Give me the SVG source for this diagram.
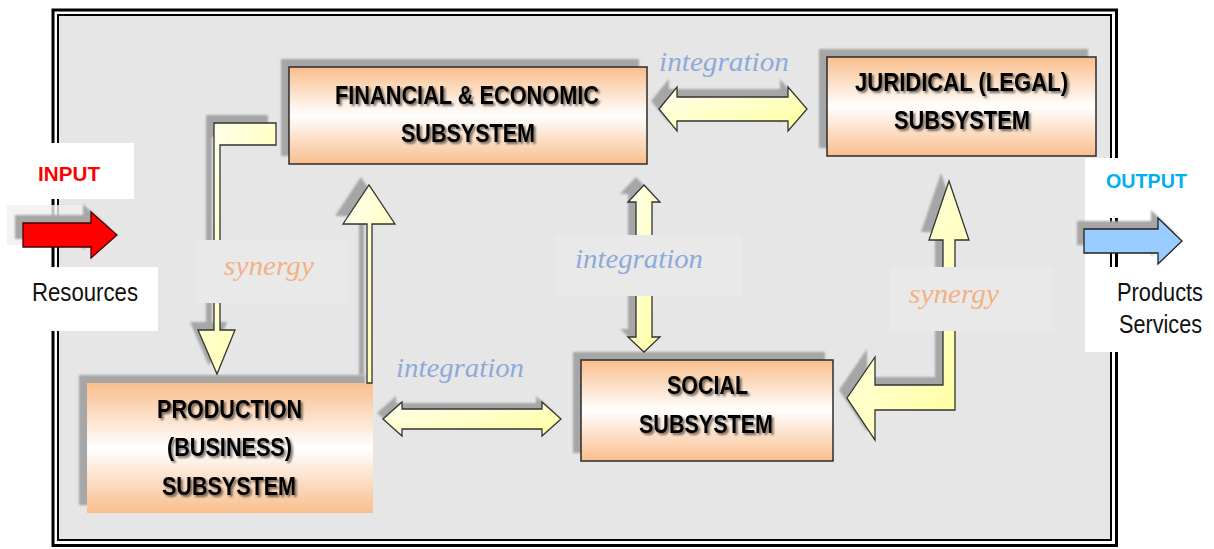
<svg xmlns="http://www.w3.org/2000/svg" width="1214" height="549" viewBox="0 0 1214 549">
<defs>
<linearGradient id="boxg" x1="0" y1="0" x2="0" y2="1">
<stop offset="0" stop-color="#f9be8c"/>
<stop offset="0.5" stop-color="#ffffff"/>
<stop offset="1" stop-color="#f9be8c"/>
</linearGradient>
<linearGradient id="yg" x1="0" y1="0" x2="1" y2="1">
<stop offset="0" stop-color="#fffff2"/>
<stop offset="0.5" stop-color="#ffffc8"/>
<stop offset="1" stop-color="#ffff99"/>
</linearGradient>
<filter id="blur" x="-20%" y="-20%" width="140%" height="140%">
<feGaussianBlur stdDeviation="1"/>
</filter>
<filter id="tsh" x="-10%" y="-30%" width="120%" height="160%">
<feDropShadow dx="2" dy="2" stdDeviation="1.3" flood-color="#000" flood-opacity="0.55"/>
</filter>
</defs>
<style>
.shadow{fill:#a6a6a6;filter:url(#blur)}
.box{fill:url(#boxg);stroke:#2b2b2b;stroke-width:1.5}
.nostroke{stroke:none}
.nt{font-family:"Liberation Sans",Arial,sans-serif;font-weight:bold;font-size:25px;fill:#000;filter:url(#tsh)}
.plain{font-family:"Liberation Sans",Arial,sans-serif;font-size:25px;fill:#111}
.io{font-family:"Liberation Sans",Arial,sans-serif;font-weight:bold;font-size:20px}
.yarrow{fill:url(#yg);stroke:#333;stroke-width:1.3;stroke-linejoin:miter}
.lbl{font-family:"Liberation Serif","Times New Roman",serif;font-style:italic;font-size:27px}
.integ{fill:#8eaadb}
.syn{fill:#f4b183}
.lblbg{fill:#e9e9e9}
</style>

<!-- frame -->
<g id="frame">
<rect x="53" y="10" width="1063.5" height="535.5" fill="#ffffff" stroke="#000" stroke-width="3"/>
<rect x="58" y="15" width="1053" height="525" fill="#e6e6e6" stroke="#000" stroke-width="2"/>
</g>

<!-- white label panels -->
<g id="panels">
<rect x="0" y="143" width="134" height="56" fill="#ffffff"/>
<rect x="0" y="267" width="158" height="64" fill="#ffffff"/>
<rect x="1085" y="158" width="129" height="194" fill="#ffffff"/>
<line x1="1111" y1="218" x2="1111" y2="267" stroke="#000" stroke-width="2"/>
<line x1="1116.5" y1="218" x2="1116.5" y2="267" stroke="#000" stroke-width="3"/>
</g>

<!-- nodes -->
<g id="node-financial">
<rect class="shadow" x="281" y="59" width="358" height="97"/>
<rect class="box" x="289" y="67" width="358" height="97"/>
<text class="nt" x="335" y="104" textLength="264" lengthAdjust="spacingAndGlyphs">FINANCIAL &amp; ECONOMIC</text>
<text class="nt" x="401" y="142" textLength="134" lengthAdjust="spacingAndGlyphs">SUBSYSTEM</text>
</g>
<g id="node-juridical">
<rect class="shadow" x="819" y="49" width="269" height="99"/>
<rect class="box" x="827" y="57" width="269" height="99"/>
<text class="nt" x="855" y="91" textLength="213" lengthAdjust="spacingAndGlyphs">JURIDICAL (LEGAL)</text>
<text class="nt" x="894" y="129" textLength="136" lengthAdjust="spacingAndGlyphs">SUBSYSTEM</text>
</g>
<g id="node-production">
<rect class="shadow" x="79" y="375" width="286" height="130"/>
<rect class="box nostroke" x="87" y="383" width="286" height="130"/>
<text class="nt" x="157" y="418" textLength="145" lengthAdjust="spacingAndGlyphs">PRODUCTION</text>
<text class="nt" x="167" y="456" textLength="125" lengthAdjust="spacingAndGlyphs">(BUSINESS)</text>
<text class="nt" x="162" y="495" textLength="134" lengthAdjust="spacingAndGlyphs">SUBSYSTEM</text>
</g>
<g id="node-social">
<rect class="shadow" x="573" y="352" width="252" height="101"/>
<rect class="box" x="581" y="360" width="252" height="101"/>
<text class="nt" x="667" y="394" textLength="81" lengthAdjust="spacingAndGlyphs">SOCIAL</text>
<text class="nt" x="639" y="433" textLength="134" lengthAdjust="spacingAndGlyphs">SUBSYSTEM</text>
</g>

<!-- connectors -->
<g id="connectors">
<!-- input arrow -->
<rect x="7" y="205" width="82" height="40" fill="#f0f0f0" opacity="0.8"/>
<path class="shadow" d="M15,215 H83 V204 L109,227 L83,250 V239 H15 Z"/>
<path d="M23,223 H91 V212 L117,235 L91,258 V247 H23 Z" fill="#ff0000" stroke="#4a0000" stroke-width="1.3"/>
<!-- output arrow -->
<path class="shadow" d="M1077,221 H1151 V210 L1175,233 L1151,256 V245 H1077 Z"/>
<path d="M1084,229 H1158 V218 L1182,241 L1158,264 V253 H1084 Z" fill="#99ccff" stroke="#222" stroke-width="1.3"/>

<!-- synergy L: financial to production -->
<path class="shadow" d="M206,115 H268 V137 H212 V322 H227 L209,366 L190,322 H206 Z"/>
<path class="yarrow" d="M214,123 H276 V145 H220 V330 H235 L217,374 L198,330 H214 Z"/>

<!-- production up to financial -->
<path class="shadow" d="M359,375 V216 H335 L361,177 L387,216 H364 V375 Z"/>
<path class="yarrow" d="M367,383 V224 H343 L369,185 L395,224 H372 V383 Z"/>

<!-- financial <-> juridical -->
<path class="shadow" d="M651,101 L669,79 V89 H780 V79 L799,101 L780,123 V113 H669 V123 Z"/>
<path class="yarrow" d="M659,109 L677,87 V97 H788 V87 L807,109 L788,131 V121 H677 V131 Z"/>

<!-- financial <-> social -->
<path class="shadow" d="M636,177 L652,194 H644 V329 H652 L636,344 L620,329 H628 V194 H620 Z"/>
<path class="yarrow" d="M644,185 L660,202 H652 V337 H660 L644,352 L628,337 H636 V202 H628 Z"/>

<!-- production <-> social -->
<path class="shadow" d="M377,413 L396,396 V403 H536 V396 L555,413 L536,430 V423 H396 V430 Z"/>
<path class="yarrow" d="M383,419 L402,402 V409 H542 V402 L561,419 L542,436 V429 H402 V436 Z"/>

<!-- synergy: juridical to social -->
<path class="shadow" d="M941,173 L961,232 H947 V402 H867 V432 L839,390 L867,349 V377 H935 V232 H921 Z"/>
<path class="yarrow" d="M949,181 L969,240 H955 V410 H875 V440 L847,398 L875,357 V385 H943 V240 H929 Z"/>

<!-- label backgrounds -->
<rect class="lblbg" x="197" y="240" width="151" height="63"/>
<rect class="lblbg" x="555" y="235" width="187" height="61"/>
<rect class="lblbg" x="890" y="267" width="163" height="64"/>

<!-- labels -->
<text class="lbl integ" x="659" y="71" textLength="130" lengthAdjust="spacingAndGlyphs">integration</text>
<text class="lbl integ" x="575" y="268" textLength="128" lengthAdjust="spacingAndGlyphs">integration</text>
<text class="lbl integ" x="396" y="377" textLength="128" lengthAdjust="spacingAndGlyphs">integration</text>
<text class="lbl syn" x="224" y="275" textLength="90" lengthAdjust="spacingAndGlyphs">synergy</text>
<text class="lbl syn" x="909" y="303" textLength="90" lengthAdjust="spacingAndGlyphs">synergy</text>
</g>

<!-- io texts -->
<g id="io-labels">
<text class="io" x="38" y="181" fill="#ff0000" textLength="62" lengthAdjust="spacingAndGlyphs">INPUT</text>
<text class="io" x="1106" y="188" fill="#00b0f0" textLength="81" lengthAdjust="spacingAndGlyphs">OUTPUT</text>
<text class="plain" x="32" y="301" textLength="106" lengthAdjust="spacingAndGlyphs">Resources</text>
<text class="plain" x="1117" y="301" textLength="86" lengthAdjust="spacingAndGlyphs">Products</text>
<text class="plain" x="1119" y="333" textLength="83" lengthAdjust="spacingAndGlyphs">Services</text>
</g>
</svg>
